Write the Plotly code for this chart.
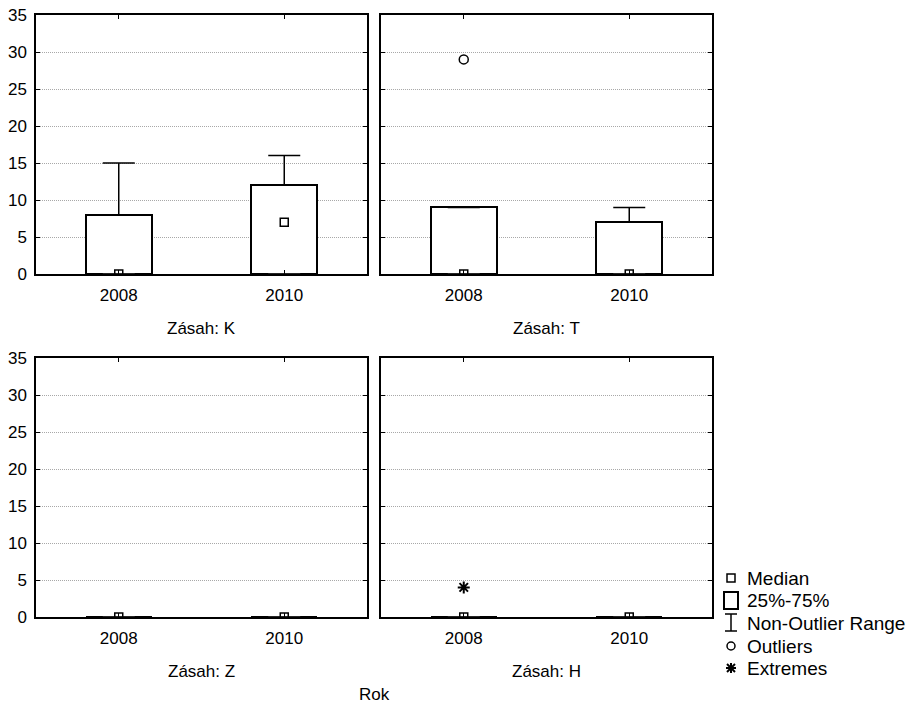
import plotly.graph_objects as go

# ---------------- data ----------------
panels = ["K", "T", "Z", "H"]
years = ["2008", "2010"]
y_ticks = [0, 5, 10, 15, 20, 25, 30, 35]

median_K = [0, 7]
median_T = [0, 0]
median_Z = [0, 0]
median_H = [0, 0]

q1_K = [0, 0]
q1_T = [0, 0]
q1_Z = [0, 0]
q1_H = [0, 0]

q3_K = [8, 12]
q3_T = [9, 7]
q3_Z = [0, 0]
q3_H = [0, 0]

upper_K = [15, 16]
upper_T = [9, 9]
upper_Z = [0, 0]
upper_H = [0, 0]

lower_K = [0, 0]
lower_T = [0, 0]
lower_Z = [0, 0]
lower_H = [0, 0]

outlier_panel = ["T"]
outlier_year = ["2008"]
outlier_value = [29]

extreme_panel = ["H"]
extreme_year = ["2008"]
extreme_value = [4]

legend_labels = ["Median", "25%-75%", "Non-Outlier Range", "Outliers", "Extremes"]
panel_prefix = "Zásah: "
x_title = "Rok"

medians = {"K": median_K, "T": median_T, "Z": median_Z, "H": median_H}
q1s = {"K": q1_K, "T": q1_T, "Z": q1_Z, "H": q1_H}
q3s = {"K": q3_K, "T": q3_T, "Z": q3_Z, "H": q3_H}
uppers = {"K": upper_K, "T": upper_T, "Z": upper_Z, "H": upper_H}
lowers = {"K": lower_K, "T": lower_T, "Z": lower_Z, "H": lower_H}

# ---------------- layout geometry (pixels) ----------------
W, H = 920, 711
FONT = "Arial, 'Liberation Sans', sans-serif"
col_px = [(36, 367), (381, 712)]
row_px = [(15, 274), (358, 617)]


def fx(x):
    return x / W


def fy(y):
    return 1 - y / H


fig = go.Figure()
layout_axes = {}
annotations = []

for i, p in enumerate(panels):
    r, c = divmod(i, 2)
    n = i + 1
    xa = "x" if n == 1 else f"x{n}"
    ya = "y" if n == 1 else f"y{n}"
    xkey = "xaxis" if n == 1 else f"xaxis{n}"
    ykey = "yaxis" if n == 1 else f"yaxis{n}"
    xpos = list(range(len(years)))

    # box (25%-75%)
    fig.add_trace(go.Bar(
        x=xpos, y=[b - a for a, b in zip(q1s[p], q3s[p])], base=q1s[p],
        width=0.4, marker=dict(color="white", line=dict(color="black", width=2)),
        xaxis=xa, yaxis=ya, showlegend=False, hoverinfo="skip"))
    # upper whisker
    fig.add_trace(go.Scatter(
        x=xpos, y=q3s[p], mode="markers",
        marker=dict(size=1, color="rgba(0,0,0,0)"),
        error_y=dict(type="data", symmetric=False,
                     array=[u - q for u, q in zip(uppers[p], q3s[p])],
                     arrayminus=[0] * len(years), width=16, thickness=1.5, color="black"),
        xaxis=xa, yaxis=ya, showlegend=False, hoverinfo="skip"))
    # lower whisker
    fig.add_trace(go.Scatter(
        x=xpos, y=q1s[p], mode="markers",
        marker=dict(size=1, color="rgba(0,0,0,0)"),
        error_y=dict(type="data", symmetric=False,
                     array=[0] * len(years),
                     arrayminus=[q - l for q, l in zip(q1s[p], lowers[p])],
                     width=16, thickness=1.5, color="#333333"),
        xaxis=xa, yaxis=ya, showlegend=False, hoverinfo="skip"))
    # median
    fig.add_trace(go.Scatter(
        x=xpos, y=medians[p], mode="markers",
        marker=dict(symbol="square-open", size=8, color="black", line=dict(width=1.5)),
        xaxis=xa, yaxis=ya, showlegend=False, hoverinfo="skip"))
    # outliers
    ox = [years.index(yv) for pp, yv in zip(outlier_panel, outlier_year) if pp == p]
    oy = [v for pp, v in zip(outlier_panel, outlier_value) if pp == p]
    if ox:
        fig.add_trace(go.Scatter(
            x=ox, y=oy, mode="markers",
            marker=dict(symbol="circle-open", size=9, color="black", line=dict(width=1.5)),
            xaxis=xa, yaxis=ya, showlegend=False, hoverinfo="skip"))
    # extremes
    ex = [years.index(yv) for pp, yv in zip(extreme_panel, extreme_year) if pp == p]
    ey = [v for pp, v in zip(extreme_panel, extreme_value) if pp == p]
    if ex:
        fig.add_trace(go.Scatter(
            x=ex, y=ey, mode="markers",
            marker=dict(symbol="asterisk-open", size=10, color="black", line=dict(width=2, color="black")),
            xaxis=xa, yaxis=ya, showlegend=False, hoverinfo="skip"))

    x0, x1 = col_px[c]
    y0, y1 = row_px[r]
    layout_axes[xkey] = dict(
        domain=[fx(x0), fx(x1)], anchor=ya, range=[-0.5, len(years) - 0.5],
        tickvals=xpos, ticktext=years, ticks="inside", ticklen=4, tickcolor="black",
        showline=True, linecolor="black", linewidth=1.5, mirror="ticks",
        showgrid=False, zeroline=False, automargin=False,
        tickfont=dict(family=FONT, size=17, color="black"), ticklabelstandoff=5)
    layout_axes[ykey] = dict(
        domain=[fy(y1), fy(y0)], anchor=xa, range=[0, 35],
        tickvals=y_ticks, ticks="inside", ticklen=4, tickcolor="black",
        showline=True, linecolor="black", linewidth=1.5, mirror="ticks",
        showgrid=True, gridcolor="#a8a8a8", griddash="1px,1px", gridwidth=1,
        zeroline=False, automargin=False, showticklabels=(c == 0),
        tickfont=dict(family=FONT, size=17, color="black"), ticklabelstandoff=4)
    annotations.append(dict(
        text=panel_prefix + p, x=fx((x0 + x1) / 2), y=fy(y1 + 54), xref="paper", yref="paper",
        showarrow=False, xanchor="center", yanchor="middle",
        font=dict(family=FONT, size=17, color="black")))

annotations.append(dict(
    text=x_title, x=fx(374), y=fy(694), xref="paper", yref="paper", showarrow=False,
    xanchor="center", yanchor="middle", font=dict(family=FONT, size=17, color="black")))

# ---------------- legend (drawn manually) ----------------
leg_rows = [578, 600, 623, 646, 668]
sx = 731
for lab, yy in zip(legend_labels, leg_rows):
    annotations.append(dict(
        text=lab, x=fx(745), y=fy(yy), xref="paper", yref="paper", showarrow=False,
        xanchor="left", yanchor="middle", font=dict(family=FONT, size=19, color="black")))

shapes = []
ln = dict(color="black", width=1.5)
# median symbol
shapes.append(dict(type="rect", xref="paper", yref="paper",
                   x0=fx(sx - 4), x1=fx(sx + 4), y0=fy(leg_rows[0] + 4), y1=fy(leg_rows[0] - 4), line=ln))
# box symbol
shapes.append(dict(type="rect", xref="paper", yref="paper",
                   x0=fx(sx - 7), x1=fx(sx + 7), y0=fy(leg_rows[1] + 9), y1=fy(leg_rows[1] - 8),
                   line=dict(color="black", width=2)))
# whisker symbol
yt, yb = leg_rows[2] - 9, leg_rows[2] + 8
for (a, b, cc, d) in [(sx - 6, yt, sx + 6, yt), (sx, yt, sx, yb), (sx - 6, yb, sx + 6, yb)]:
    shapes.append(dict(type="line", xref="paper", yref="paper",
                       x0=fx(a), y0=fy(b), x1=fx(cc), y1=fy(d), line=ln))
# outlier symbol
shapes.append(dict(type="circle", xref="paper", yref="paper",
                   x0=fx(sx - 4), x1=fx(sx + 4), y0=fy(leg_rows[3] + 4), y1=fy(leg_rows[3] - 4), line=ln))
# extreme symbol
cy = leg_rows[4]
for (a, b, cc, d) in [(-5, 0, 5, 0), (0, -5, 0, 5), (-4, -4, 4, 4), (-4, 4, 4, -4)]:
    shapes.append(dict(type="line", xref="paper", yref="paper",
                       x0=fx(sx + a), y0=fy(cy + b), x1=fx(sx + cc), y1=fy(cy + d),
                       line=dict(color="black", width=2)))

fig.update_layout(
    width=W, height=H, margin=dict(l=0, r=0, t=0, b=0),
    template="none", paper_bgcolor="white", plot_bgcolor="white",
    showlegend=False, annotations=annotations, shapes=shapes,
    font=dict(family=FONT, color="black"), bargap=0,
    **layout_axes)

fig.write_html("out.html")
